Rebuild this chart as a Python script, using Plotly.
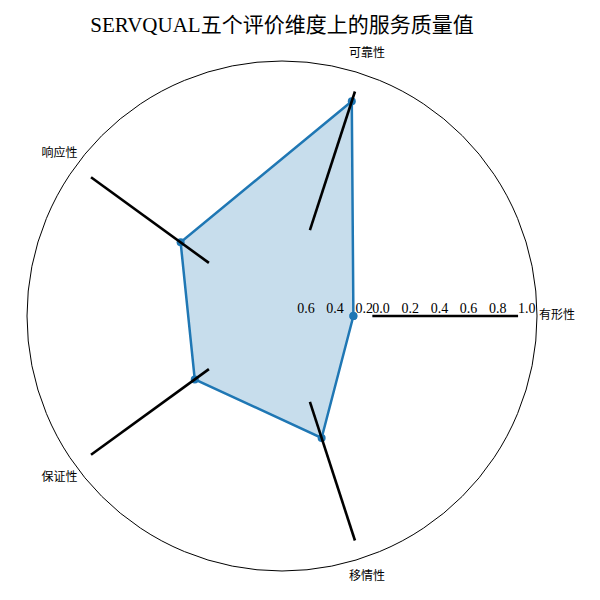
import plotly.graph_objects as go

categories = ["有形性", "可靠性", "响应性", "保证性", "移情性"]
values = [-0.13, 0.93, 0.24, 0.12, 0.26]
spoke_r = [0.0, 1.0]
label_r = 1.267
r_range = [-0.62, 1.13]
label_range = [-0.62, 1.30]
r_tickvals = [-0.6, -0.4, -0.2, 0.0, 0.2, 0.4, 0.6, 0.8, 1.0]
r_ticklabels = ["0.6", "0.4", "0.2", "0.0", "0.2", "0.4", "0.6", "0.8", "1.0"]
title_text = "SERVQUAL五个评价维度上的服务质量值"

# geometry of the polar area (pixels in 600x600 page)
CX, CY_B, RAD = 282, 284, 255
px_per_unit = RAD / (r_range[1] - r_range[0])
RAD2 = px_per_unit * (label_range[1] - label_range[0])

NB = "\u00a0"
ticktext = []
for v, lab in zip(r_tickvals, r_ticklabels):
    pad = 12 if v < 0 else 5
    ticktext.append(NB * pad + lab)

fig = go.Figure()

# filled polygon with line + markers
fig.add_trace(go.Scatterpolar(
    r=values + [values[0]],
    theta=categories + [categories[0]],
    mode="lines+markers",
    fill="toself",
    fillcolor="rgba(31,119,180,0.25)",
    line=dict(color="#1f77b4", width=2.5),
    marker=dict(color="#1f77b4", size=8),
    showlegend=False,
    hoverinfo="skip",
    subplot="polar",
))

# black spokes from r=0 to r=1
for c in categories:
    fig.add_trace(go.Scatterpolar(
        r=spoke_r,
        theta=[c, c],
        mode="lines",
        line=dict(color="black", width=2.6),
        showlegend=False,
        hoverinfo="skip",
        subplot="polar",
    ))

# category labels outside the circle (on an overlaid, wider polar with same scale)
fig.add_trace(go.Scatterpolar(
    r=[label_r] * len(categories),
    theta=categories,
    mode="text",
    text=categories,
    textposition="middle center",
    textfont=dict(family="Noto Sans CJK SC", size=12, color="black"),
    showlegend=False,
    hoverinfo="skip",
    subplot="polar2",
))

angular_common = dict(
    categoryorder="array",
    categoryarray=categories,
    rotation=0,
    direction="counterclockwise",
    showgrid=False,
    ticks="",
    showticklabels=False,
)

fig.update_layout(
    width=600, height=600,
    margin=dict(l=0, r=0, t=0, b=0),
    paper_bgcolor="white",
    title=dict(
        text=title_text,
        x=0.47, xanchor="center",
        y=1 - 25 / 600, yanchor="middle", yref="container",
        font=dict(family="Liberation Serif, Noto Sans CJK SC", size=21, color="black"),
    ),
    polar=dict(
        domain=dict(x=[(CX - RAD) / 600, (CX + RAD) / 600],
                    y=[(CY_B - RAD) / 600, (CY_B + RAD) / 600]),
        bgcolor="white",
        radialaxis=dict(
            range=r_range,
            tickvals=r_tickvals,
            ticktext=ticktext,
            tickangle=0,
            angle=0,
            side="counterclockwise",
            showline=False,
            showgrid=False,
            ticks="",
            tickfont=dict(family="Liberation Serif", size=14, color="black"),
        ),
        angularaxis=dict(showline=True, linecolor="black", linewidth=1, **angular_common),
    ),
    polar2=dict(
        domain=dict(x=[(CX - RAD2) / 600, (CX + RAD2) / 600],
                    y=[(CY_B - RAD2) / 600, (CY_B + RAD2) / 600]),
        bgcolor="rgba(0,0,0,0)",
        radialaxis=dict(range=label_range, visible=False, showgrid=False),
        angularaxis=dict(showline=False, **angular_common),
    ),
)

fig.write_html("out.html")
